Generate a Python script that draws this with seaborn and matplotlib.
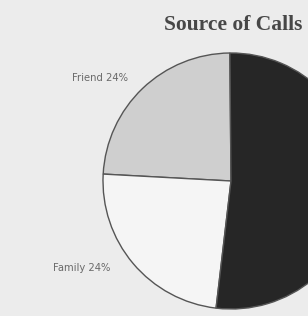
import matplotlib
matplotlib.use("Agg")
import matplotlib.pyplot as plt
import seaborn as sns

categories = ["Friend", "Family", "Other"]
shares = [24, 24, 52]
labels = ["Friend 24%", "Family 24%", ""]
colors = ["#cfcfcf", "#f5f5f5", "#262626"]

sns.set_theme(style="white")
bg = "#ececec"
fig = plt.figure(figsize=(3.08, 3.16), dpi=100, facecolor=bg)
ax = fig.add_axes([103 / 308, 7 / 316, 256 / 308, 256 / 316])
ax.set_facecolor(bg)
wedges, _ = ax.pie(shares, colors=colors, startangle=90.5, counterclock=True,
                   radius=1.0, wedgeprops=dict(edgecolor="#555555", linewidth=1.0))
for w in wedges:
    w.set_clip_on(False)
ax.set_xlim(-1, 1)
ax.set_ylim(-1, 1)
ax.set_aspect("equal")
ax.axis("off")

fig.text(233 / 308, 1 - 25 / 316, "Source of Calls", ha="center", va="center",
         family="Liberation Serif", fontweight="bold", fontsize=15.5, color="#474747")
fig.text(100 / 308, 1 - 78 / 316, labels[0], ha="center", va="center",
         family="DejaVu Sans", fontsize=7.2, color="#6a6a6a")
fig.text(82 / 308, 1 - 268 / 316, labels[1], ha="center", va="center",
         family="DejaVu Sans", fontsize=7.2, color="#6a6a6a")

fig.savefig("out.png", dpi=100, facecolor=bg)
